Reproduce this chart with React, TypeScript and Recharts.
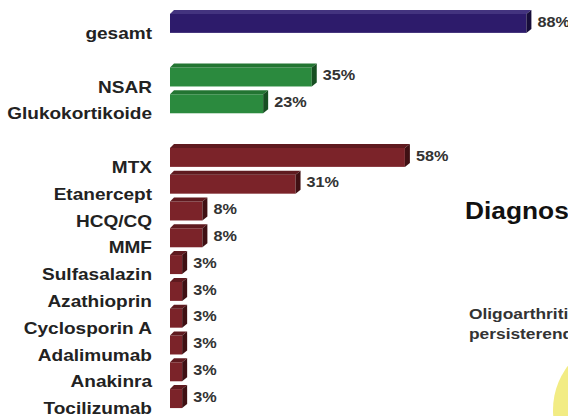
import { Bar, BarChart, Cell, LabelList, XAxis, YAxis } from "recharts";

// groups of the slide, top to bottom
const totalLabels = ["gesamt"];
const totalValues = [88];

const symptomLabels = ["NSAR", "Glukokortikoide"];
const symptomValues = [35, 23];

const dmardLabels = [
  "MTX",
  "Etanercept",
  "HCQ/CQ",
  "MMF",
  "Sulfasalazin",
  "Azathioprin",
  "Cyclosporin A",
  "Adalimumab",
  "Anakinra",
  "Tocilizumab",
];
const dmardValues = [58, 31, 8, 8, 3, 3, 3, 3, 3, 3];

// front / top / side faces for the fake 3D bars
const PALETTE = {
  total: ["#2d1b6b", "#43337f", "#170d3a"],
  symptom: ["#2b8a3e", "#237532", "#174f22"],
  dmard: ["#7b2329", "#5f1a1f", "#3f1013"],
};

type Row = { name: string; value: number | null; group: keyof typeof PALETTE | null };

const rows: Row[] = [
  ...totalLabels.map((name, i) => ({ name, value: totalValues[i], group: "total" as const })),
  { name: "gap-1", value: null, group: null },
  ...symptomLabels.map((name, i) => ({ name, value: symptomValues[i], group: "symptom" as const })),
  { name: "gap-2", value: null, group: null },
  ...dmardLabels.map((name, i) => ({ name, value: dmardValues[i], group: "dmard" as const })),
];

const FONT = "'Liberation Sans', Arial, sans-serif";
const STRETCH = 1.12; // the slide is a little wider than tall
const D = 4; // depth of the bevel

function Bar3D(props: any) {
  const { x, y, width, height, payload } = props;
  if (!payload || payload.group == null || !width) return null;
  const [front, top, side] = PALETTE[payload.group as keyof typeof PALETTE];
  const w = width;
  return (
    <g>
      <rect x={x} y={y + D} width={w} height={height - D} fill={front} />
      <polygon
        points={`${x},${y + D} ${x + D},${y} ${x + w + D + 1},${y} ${x + w},${y + D}`}
        fill={top}
      />
      <polygon
        points={`${x + w},${y + D} ${x + w + D + 1},${y} ${x + w + D + 1},${y + height - D} ${x + w},${y + height}`}
        fill={side}
      />
    </g>
  );
}

function CategoryTick(props: any) {
  const { x, y, payload } = props;
  if (String(payload.value).startsWith("gap")) return null;
  return (
    <text
      transform={`translate(${x - 10},${y + 12}) scale(${STRETCH},1)`}
      textAnchor="end"
      dominantBaseline="central"
      fontFamily={FONT}
      fontWeight="bold"
      fontSize={17}
      fill="#222"
    >
      {payload.value}
    </text>
  );
}

function ValueLabel(props: any) {
  const { x, y, width, height, value } = props;
  if (value == null) return null;
  return (
    <text
      transform={`translate(${x + width + 11},${y + height / 2}) scale(${STRETCH},1)`}
      dominantBaseline="central"
      fontFamily={FONT}
      fontWeight="bold"
      fontSize={14.5}
      fill="#333"
    >
      {`${value}%`}
    </text>
  );
}

function SlideText({ x, y, size, color, children }: any) {
  return (
    <text
      transform={`translate(${x},${y}) scale(${STRETCH},1)`}
      dominantBaseline="central"
      fontFamily={FONT}
      fontWeight="bold"
      fontSize={size}
      fill={color}
    >
      {children}
    </text>
  );
}

export default function App() {
  return (
    <div
      style={{
        position: "absolute",
        left: 0,
        top: 0,
        width: 568,
        height: 416,
        overflow: "hidden",
        background: "#fff",
      }}
    >
      <BarChart
        width={600}
        height={416}
        data={rows}
        layout="vertical"
        margin={{ top: 8, right: 25, left: 0, bottom: 6 }}
        barCategoryGap="7%"
      >
        <XAxis type="number" domain={[0, 100]} hide />
        <YAxis
          type="category"
          dataKey="name"
          width={170}
          tickLine={false}
          axisLine={false}
          interval={0}
          tick={<CategoryTick />}
        />
        <Bar dataKey="value" isAnimationActive={false} shape={<Bar3D />}>
          {rows.map((r, i) => (
            <Cell key={i} fill={r.group ? PALETTE[r.group][0] : "none"} />
          ))}
          <LabelList dataKey="value" content={<ValueLabel />} />
        </Bar>
      </BarChart>

      {/* cut-off parts of the slide on the right */}
      <svg
        width={568}
        height={416}
        style={{ position: "absolute", left: 0, top: 0, pointerEvents: "none" }}
      >
        <circle cx={626} cy={410} r={73} fill="#f2ec84" />
        <SlideText x={465} y={211} size={23.5} color="#111">
          Diagnose
        </SlideText>
        <SlideText x={469} y={313} size={15.5} color="#333">
          Oligoarthritis
        </SlideText>
        <SlideText x={469} y={333} size={15.5} color="#333">
          persisterend
        </SlideText>
      </svg>
    </div>
  );
}
